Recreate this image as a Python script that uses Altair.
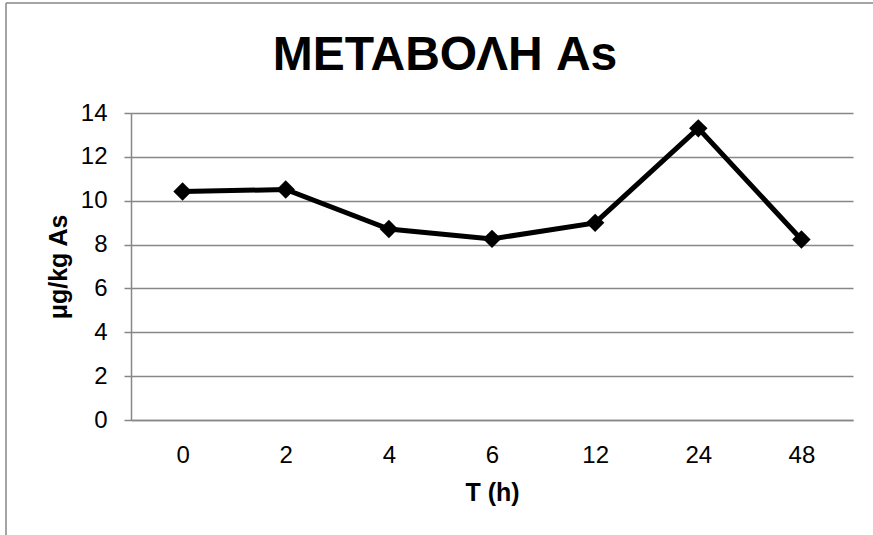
import altair as alt
import pandas as pd

# Sampling times (h) and measured arsenic concentration (μg/kg)
hours = ["0", "2", "4", "6", "12", "24", "48"]
arsenic = [10.42, 10.51, 8.71, 8.26, 8.99, 13.30, 8.23]

df = pd.DataFrame({"T": hours, "As": arsenic})

FONT = "Liberation Sans"
GRAY = "#878787"

x = alt.X(
    "T:O",
    sort=hours,
    scale=alt.Scale(type="point", padding=0.5),
    axis=alt.Axis(
        title="T (h)",
        labelAngle=0,
        ticks=False,
        labelPadding=23,
        labelFontSize=24,
        labelFont=FONT,
        labelColor="#000000",
        titleFont=FONT,
        titleFontSize=25,
        titleFontWeight="bold",
        titleColor="#000000",
        titleY=72,
        titleBaseline="middle",
        domainColor=GRAY,
        domainWidth=1.5,
        grid=False,
    ),
)

y = alt.Y(
    "As:Q",
    scale=alt.Scale(domain=[0, 14], nice=False),
    axis=alt.Axis(
        title="μg/kg As",
        values=[0, 2, 4, 6, 8, 10, 12, 14],
        tickSize=7,
        tickColor=GRAY,
        tickWidth=1.5,
        labelPadding=17,
        labelFontSize=24,
        labelFont=FONT,
        labelColor="#000000",
        titleFont=FONT,
        titleFontSize=25,
        titleFontWeight="bold",
        titleColor="#000000",
        titleAngle=-90,
        titleX=-73,
        titleY=153.5,
        titleAlign="center",
        titleBaseline="middle",
        domainColor=GRAY,
        domainWidth=1.5,
        gridColor=GRAY,
        gridWidth=1.5,
    ),
)

line = alt.Chart(df).mark_line(color="#000000", strokeWidth=5).encode(x=x, y=y)
points = alt.Chart(df).mark_point(
    shape="diamond", filled=True, size=340, color="#000000", opacity=1
).encode(x=x, y=y)

# Outer frame of the chart area (left and top edges)
frame_data = alt.Data(values=[{}])
left_edge = alt.Chart(frame_data).mark_rule(color=GRAY, strokeWidth=1.5).encode(
    x=alt.value(-125), y=alt.value(-110), y2=alt.value(430)
)
top_edge = alt.Chart(frame_data).mark_rule(color=GRAY, strokeWidth=1.5).encode(
    x=alt.value(-125), x2=alt.value(760), y=alt.value(-110)
)

chart = (
    alt.layer(left_edge, top_edge, line, points)
    .properties(
        width=722,
        height=307,
        autosize=alt.AutoSizeParams(type="none"),
        padding={"left": 131, "top": 113, "right": 20, "bottom": 115},
        title=alt.TitleParams(
            "ΜΕΤΑΒΟΛΗ As",
            font=FONT,
            fontSize=48,
            fontWeight="bold",
            color="#000000",
            anchor="middle",
            frame="group",
            dx=-47,
            dy=116,
            offset=0,
            baseline="alphabetic",
        ),
        background="#ffffff",
    )
    .configure_view(stroke=None)
)

chart.save("out.html", embed_options={"renderer": "svg", "actions": False})
